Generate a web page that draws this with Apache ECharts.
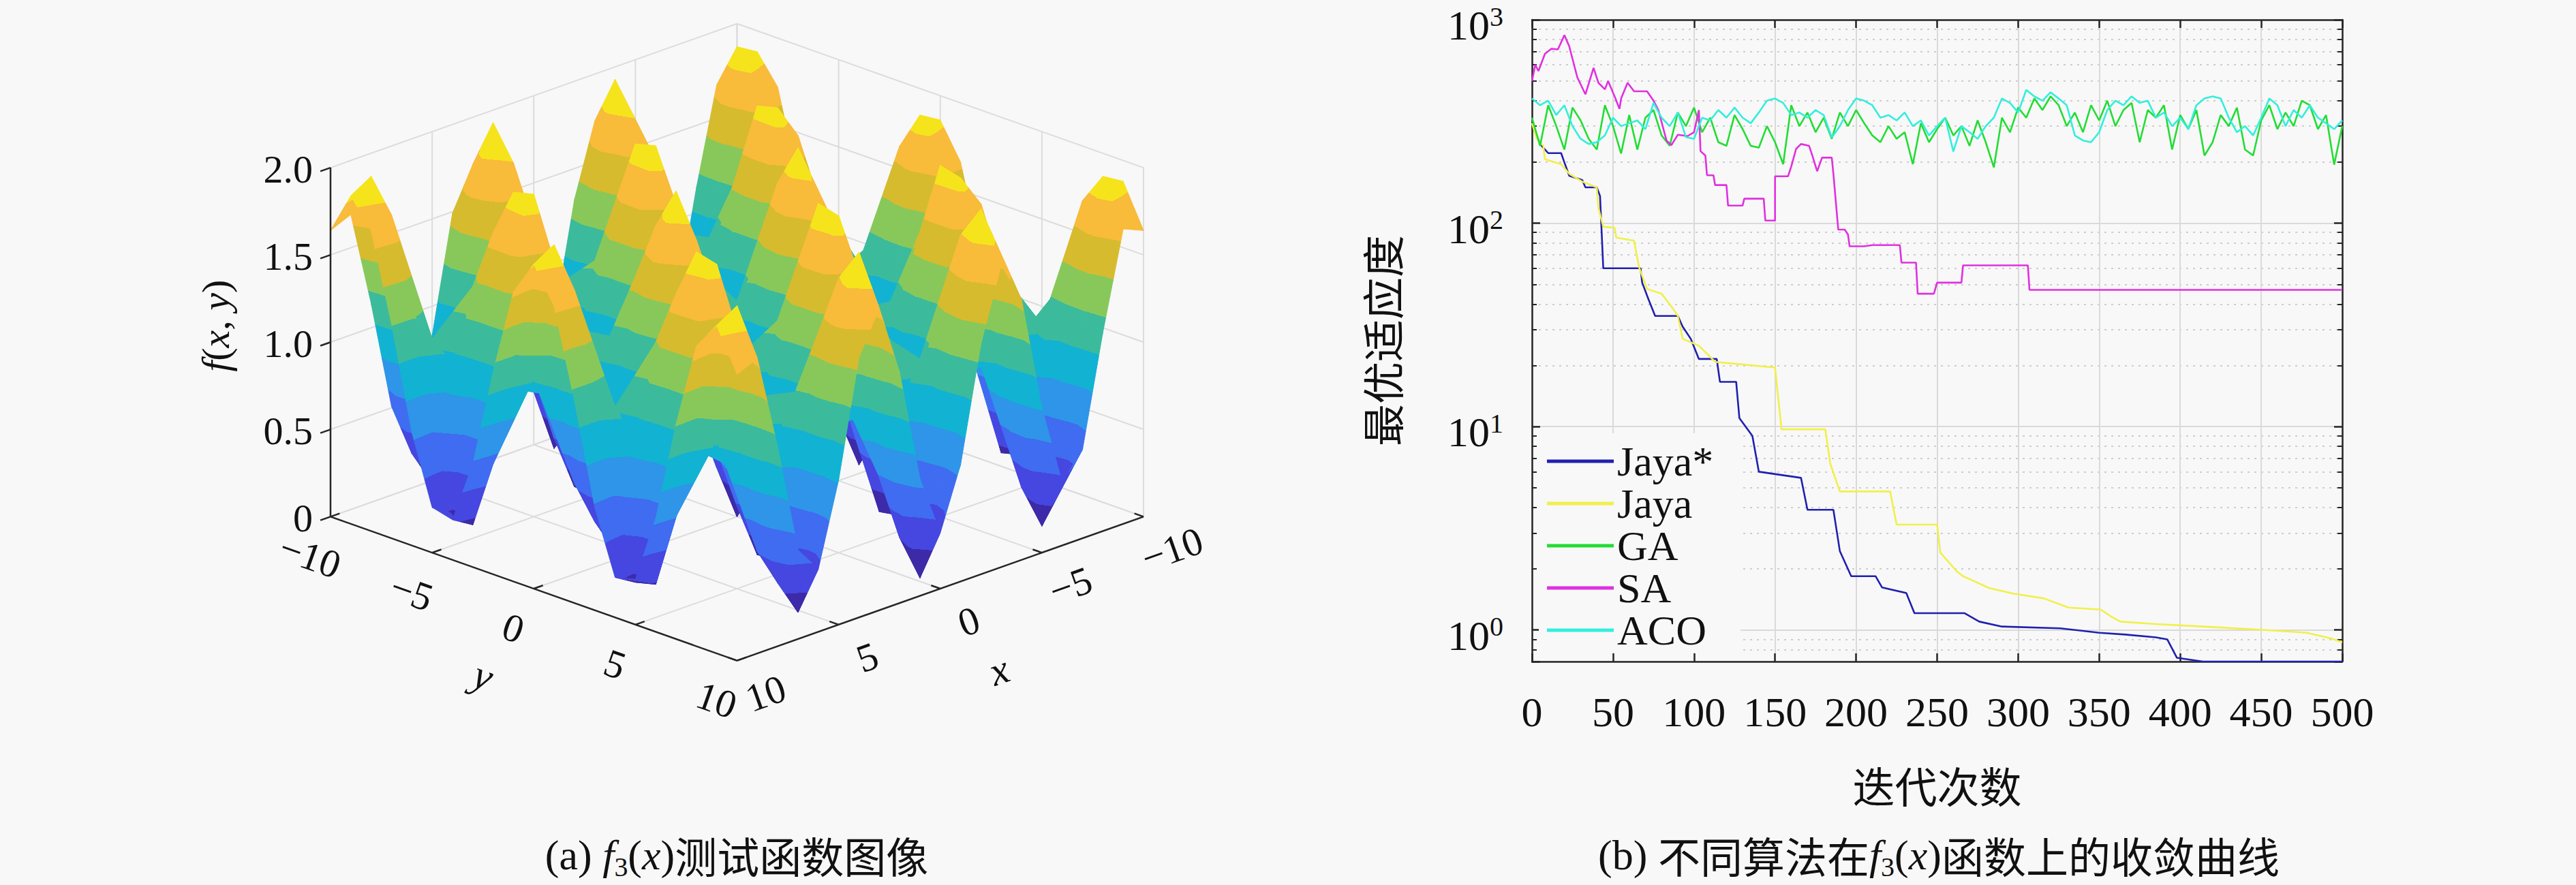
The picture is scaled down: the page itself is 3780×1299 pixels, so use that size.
<!DOCTYPE html>
<html>
<head>
<meta charset="utf-8">
<script src="https://cdn.jsdelivr.net/npm/echarts@6/dist/echarts.min.js"></script>
<style>
html, body { margin: 0; padding: 0; background: #f8f8f8; }
#main { width: 3780px; height: 1299px; }
</style>
</head>
<body>
<div id="main"></div>
<script>
// ---------- (a) surface of f3 on [-10,10]^2, 1-unit mesh ----------
var gridX = [-10,-9,-8,-7,-6,-5,-4,-3,-2,-1,0,1,2,3,4,5,6,7,8,9,10];
var gridY = [-10,-9,-8,-7,-6,-5,-4,-3,-2,-1,0,1,2,3,4,5,6,7,8,9,10];
// rows follow gridX, columns follow gridY
var surfZ = [
  [1.64,1.88,1.72,1.23,0.65,0.26,0.23,0.59,1.16,1.66,1.86,1.66,1.16,0.59,0.23,0.26,0.65,1.23,1.72,1.88,1.64],
  [1.69,1.95,1.77,1.25,0.62,0.19,0.16,0.55,1.16,1.71,1.93,1.71,1.16,0.55,0.16,0.19,0.62,1.25,1.77,1.95,1.69],
  [1.14,1.18,1.15,1.06,0.96,0.89,0.88,0.94,1.04,1.13,1.16,1.13,1.04,0.94,0.88,0.89,0.96,1.06,1.15,1.18,1.14],
  [0.51,0.28,0.42,0.85,1.36,1.71,1.73,1.41,0.90,0.44,0.26,0.44,0.90,1.41,1.73,1.71,1.36,0.85,0.42,0.28,0.51],
  [0.36,0.07,0.25,0.80,1.45,1.90,1.93,1.51,0.86,0.28,0.05,0.28,0.86,1.51,1.93,1.90,1.45,0.80,0.25,0.07,0.36],
  [0.83,0.74,0.79,0.95,1.14,1.27,1.28,1.16,0.96,0.79,0.72,0.79,0.96,1.16,1.28,1.27,1.14,0.95,0.79,0.74,0.83],
  [1.49,1.68,1.55,1.17,0.72,0.41,0.39,0.67,1.11,1.50,1.66,1.50,1.11,0.67,0.39,0.41,0.72,1.17,1.55,1.68,1.49],
  [1.73,2.01,1.82,1.25,0.56,0.09,0.07,0.49,1.16,1.75,1.99,1.75,1.16,0.49,0.07,0.09,0.56,1.25,1.82,2.01,1.73],
  [1.32,1.44,1.35,1.11,0.82,0.62,0.61,0.79,1.07,1.32,1.42,1.32,1.07,0.79,0.61,0.62,0.82,1.11,1.35,1.44,1.32],
  [0.67,0.50,0.60,0.90,1.26,1.51,1.52,1.29,0.92,0.59,0.46,0.59,0.92,1.29,1.52,1.51,1.26,0.90,0.60,0.50,0.67],
  [0.32,0.02,0.21,0.78,1.46,1.93,1.96,1.52,0.85,0.24,0.00,0.24,0.85,1.52,1.96,1.93,1.46,0.78,0.21,0.02,0.32],
  [0.67,0.50,0.60,0.90,1.26,1.51,1.52,1.29,0.92,0.59,0.46,0.59,0.92,1.29,1.52,1.51,1.26,0.90,0.60,0.50,0.67],
  [1.32,1.44,1.35,1.11,0.82,0.62,0.61,0.79,1.07,1.32,1.42,1.32,1.07,0.79,0.61,0.62,0.82,1.11,1.35,1.44,1.32],
  [1.73,2.01,1.82,1.25,0.56,0.09,0.07,0.49,1.16,1.75,1.99,1.75,1.16,0.49,0.07,0.09,0.56,1.25,1.82,2.01,1.73],
  [1.49,1.68,1.55,1.17,0.72,0.41,0.39,0.67,1.11,1.50,1.66,1.50,1.11,0.67,0.39,0.41,0.72,1.17,1.55,1.68,1.49],
  [0.83,0.74,0.79,0.95,1.14,1.27,1.28,1.16,0.96,0.79,0.72,0.79,0.96,1.16,1.28,1.27,1.14,0.95,0.79,0.74,0.83],
  [0.36,0.07,0.25,0.80,1.45,1.90,1.93,1.51,0.86,0.28,0.05,0.28,0.86,1.51,1.93,1.90,1.45,0.80,0.25,0.07,0.36],
  [0.51,0.28,0.42,0.85,1.36,1.71,1.73,1.41,0.90,0.44,0.26,0.44,0.90,1.41,1.73,1.71,1.36,0.85,0.42,0.28,0.51],
  [1.14,1.18,1.15,1.06,0.96,0.89,0.88,0.94,1.04,1.13,1.16,1.13,1.04,0.94,0.88,0.89,0.96,1.06,1.15,1.18,1.14],
  [1.69,1.95,1.77,1.25,0.62,0.19,0.16,0.55,1.16,1.71,1.93,1.71,1.16,0.55,0.16,0.19,0.62,1.25,1.77,1.95,1.69],
  [1.64,1.88,1.72,1.23,0.65,0.26,0.23,0.59,1.16,1.66,1.86,1.66,1.16,0.59,0.23,0.26,0.65,1.23,1.72,1.88,1.64]
];
var xyTicks = [-10, -5, 0, 5, 10];
var zTicks = [0, 0.5, 1, 1.5, 2];
var zTickLabels = ['0', '0.5', '1.0', '1.5', '2.0'];
var parula = ['#3d2aa8', '#4547e0', '#3f6cf0', '#2e95e8', '#12b2d2',
              '#3bbb9c', '#88c85a', '#d6bb2e', '#f8bb3a', '#f5e41c'];

// ---------- (b) convergence curves ----------
var seriesNames = ['Jaya*', 'Jaya', 'GA', 'SA', 'ACO'];
var seriesColors = ['#2020b0', '#f0f04a', '#22dd33', '#e030e0', '#33eedd'];

var jayaStarIter = [0,3,6,10,18,20,23,31,33,40,42,44,67,68,72,76,90,93,98,103,114,116,126,128,136,140,166,170,186,190,197,212,216,231,236,267,276,290,326,350,366,385,392,398,414,500];
var jayaStarVal = [310,265,240,221,221,199,171,163,150,150,136,60,60,51,42,35,35,31,27,21.5,21.5,16.6,16.6,11,9,6,5.6,3.9,3.9,2.44,1.84,1.84,1.62,1.52,1.21,1.21,1.10,1.04,1.02,0.97,0.95,0.92,0.90,0.73,0.70,0.70];

var jayaIter = [0,3,7,8,18,23,31,40,41,44,51,52,63,66,71,80,86,90,93,103,113,150,154,181,184,190,221,225,250,252,262,266,282,297,316,331,351,357,363,385,414,453,478,493,500];
var jayaVal = [310,260,240,206,195,175,160,150,119,96,95,85,82,61,47.5,45,39,35,27,25,20.8,19.5,9.7,9.7,6.6,4.8,4.8,3.3,3.3,2.4,1.95,1.84,1.61,1.51,1.43,1.29,1.26,1.17,1.10,1.07,1.04,1.0,0.97,0.91,0.87];

var saIter = [0,2,4,8,12,16,20,23,28,33,38,41,45,47,51,54,55,59,63,71,75,78,83,86,90,96,100,103,104,107,108,112,113,120,121,130,131,143,144,150,150,158,160,163,166,171,173,176,179,185,186,189,193,195,196,205,210,227,228,237,238,248,250,265,266,306,307,500];
var saVal = [500,600,560,680,720,715,840,740,520,430,580,490,455,500,420,365,410,490,445,445,400,360,255,242,272,268,280,360,226,215,172,172,154,154,122,122,132,132,103,103,170,170,190,232,245,240,215,180,210,210,175,93,93,88,77,77,78,78,64,64,45,45,51,51,62,62,47,47];

// GA and ACO read every 5 iterations
var sampleStep = 5;
var gaVal = [330,240,380,300,230,370,320,260,230,380,
             300,220,340,230,330,360,270,240,350,300,
             370,280,330,250,240,340,290,240,235,300,
             250,195,380,300,350,280,330,260,350,300,
             360,310,270,250,300,260,280,195,310,250,
             290,330,270,300,240,320,250,188,330,280,
             370,330,410,360,420,380,300,350,280,380,
             320,400,300,360,390,250,360,330,380,230,
             340,290,360,215,250,340,300,370,230,215,
             320,380,290,350,300,400,380,290,340,194,
             300];
var acoVal = [410,380,400,340,380,300,260,245,250,270,
              330,300,310,320,290,390,330,300,350,265,
              260,330,320,360,330,370,330,310,350,400,
              410,390,340,350,330,360,340,264,300,360,
              410,400,380,330,340,320,350,300,320,270,
              300,330,225,300,280,260,300,330,410,390,
              350,452,420,400,440,410,380,270,255,250,
              280,360,400,380,420,390,400,330,350,300,
              330,290,380,410,420,410,330,280,300,270,
              330,410,380,300,360,330,380,330,310,290,
              320];

var SERIF = '"Liberation Serif", "DejaVu Serif", serif';
var CJK = '"Noto Sans CJK SC", sans-serif';
var FRAME = '#262626';
var INK = '#111111';

// view of the surface: azimuth 45 deg, elevation ~20.7 deg
var COS45 = Math.SQRT1_2;
var SIN_EL = 0.354;
var Z_SCALE = 6.07;
var CLIM = [0, 2.03];
var LABEL_ANG = Math.atan(SIN_EL);

function proj(x, y, z) {
  return [(y - x) * COS45, z * Z_SCALE - (x + y) * COS45 * SIN_EL];
}

function pairs(xs, ys) {
  return xs.map(function (x, i) { return [x, ys[i]]; });
}

function sampled(vals) {
  return vals.map(function (v, k) { return [k * sampleStep, v]; });
}

function tickText(t) {
  return t < 0 ? '\u2212' + Math.abs(t) : String(t);
}

function levelOf(z) {
  var t = (z - CLIM[0]) / (CLIM[1] - CLIM[0]);
  return Math.max(0, Math.min(parula.length - 1, Math.floor(t * parula.length)));
}

// colour a triangle with discrete colormap bands (like interp shading)
function bandFill(P, Z) {
  var zLo = Math.min(Z[0], Z[1], Z[2]), zHi = Math.max(Z[0], Z[1], Z[2]);
  var kLo = levelOf(zLo), kHi = levelOf(zHi);
  var e1x = P[1][0] - P[0][0], e1y = P[1][1] - P[0][1];
  var e2x = P[2][0] - P[0][0], e2y = P[2][1] - P[0][1];
  var det = e1x * e2y - e1y * e2x;
  if (kLo === kHi || Math.abs(det) < 1) return parula[levelOf((Z[0] + Z[1] + Z[2]) / 3)];
  var d1 = Z[1] - Z[0], d2 = Z[2] - Z[0];
  var a = (d1 * e2y - e1y * d2) / det;
  var b = (e1x * d2 - d1 * e2x) / det;
  var g2 = a * a + b * b;
  var sx = P[0][0] + (zLo - Z[0]) * a / g2, sy = P[0][1] + (zLo - Z[0]) * b / g2;
  var ex = P[0][0] + (zHi - Z[0]) * a / g2, ey = P[0][1] + (zHi - Z[0]) * b / g2;
  var step = (CLIM[1] - CLIM[0]) / parula.length;
  var stops = [{ offset: 0, color: parula[kLo] }];
  for (var k = kLo + 1; k <= kHi; k++) {
    var t = (CLIM[0] + k * step - zLo) / (zHi - zLo);
    t = Math.max(0, Math.min(1, t));
    stops.push({ offset: t, color: parula[k - 1] }, { offset: t, color: parula[k] });
  }
  stops.push({ offset: 1, color: parula[kHi] });
  return new echarts.graphic.LinearGradient(sx, sy, ex, ey, stops, true);
}

// back-to-front order of mesh cells
var cells = [];
for (var s = 0; s <= 2 * (gridX.length - 2); s++) {
  for (var i = 0; i < gridX.length - 1; i++) {
    var j = s - i;
    if (j >= 0 && j < gridY.length - 1) cells.push([i, j]);
  }
}

function renderSurface(params, api) {
  var i = api.value(0), j = api.value(1);
  function vtx(c) {
    return { p: api.coord(proj(gridX[c[0]], gridY[c[1]], surfZ[c[0]][c[1]])), z: surfZ[c[0]][c[1]] };
  }
  var v00 = vtx([i, j]), v10 = vtx([i + 1, j]), v01 = vtx([i, j + 1]), v11 = vtx([i + 1, j + 1]);
  var tris = [[v00, v10, v01], [v10, v11, v01]];
  return {
    type: 'group',
    children: tris.map(function (tr) {
      var P = tr.map(function (v) { return v.p; });
      var fill = bandFill(P, tr.map(function (v) { return v.z; }));
      return { type: 'polygon', shape: { points: P }, style: { fill: fill, stroke: fill, lineWidth: 1 } };
    })
  };
}

function makeSeg(api, kids) {
  return function (a, b, style) {
    var p = api.coord(proj(a[0], a[1], a[2]));
    var q = api.coord(proj(b[0], b[1], b[2]));
    kids.push({ type: 'line', shape: { x1: p[0], y1: p[1], x2: q[0], y2: q[1] }, style: style });
  };
}

function renderWalls(params, api) {
  var kids = [];
  var seg = makeSeg(api, kids);
  var g = { stroke: '#dcdcdc', lineWidth: 2 };
  var lo = xyTicks[0], hi = xyTicks[xyTicks.length - 1], top = zTicks[zTicks.length - 1];
  xyTicks.forEach(function (t) {
    seg([t, lo, 0], [t, hi, 0], g);
    seg([lo, t, 0], [hi, t, 0], g);
    seg([t, lo, 0], [t, lo, top], g);
    seg([lo, t, 0], [lo, t, top], g);
  });
  zTicks.forEach(function (z) {
    seg([hi, lo, z], [lo, lo, z], g);
    seg([lo, lo, z], [lo, hi, z], g);
  });
  return { type: 'group', children: kids };
}

function label(kids, txt, x, y, rot, align, extra) {
  var st = { text: txt, fill: INK, fontSize: 58, fontFamily: SERIF, align: align || 'center', verticalAlign: 'middle' };
  if (extra) for (var k in extra) st[k] = extra[k];
  kids.push({ type: 'text', x: x, y: y, rotation: rot || 0, style: st });
}

function renderAxes(params, api) {
  var kids = [];
  var seg = makeSeg(api, kids);
  var ax = { stroke: FRAME, lineWidth: 2.5 };
  var lo = xyTicks[0], hi = xyTicks[xyTicks.length - 1], top = zTicks[zTicks.length - 1];
  seg([hi, lo, 0], [hi, hi, 0], ax);
  seg([hi, hi, 0], [lo, hi, 0], ax);
  seg([hi, lo, 0], [hi, lo, top], ax);
  xyTicks.forEach(function (t) {
    seg([hi, t, 0], [hi - 0.45, t, 0], ax);
    seg([t, hi, 0], [t, hi - 0.45, 0], ax);
    var p = api.coord(proj(hi, t, 0));
    label(kids, tickText(t), p[0] - 30, p[1] + 58, -LABEL_ANG);
    var q = api.coord(proj(t, hi, 0));
    label(kids, tickText(t), q[0] + 42, q[1] + 48, LABEL_ANG);
  });
  zTicks.forEach(function (z, k) {
    seg([hi, lo, z], [hi + 0.5, lo, z], ax);
    var p = api.coord(proj(hi, lo, z));
    label(kids, zTickLabels[k], p[0] - 26, p[1] + 2, 0, 'right');
  });
  var py = api.coord(proj(hi, 0, 0));
  label(kids, 'y', py[0] - 74, py[1] + 128, -LABEL_ANG, 'center', { fontStyle: 'italic', fontSize: 60 });
  var px = api.coord(proj(0, hi, 0));
  label(kids, 'x', px[0] + 86, px[1] + 120, LABEL_ANG, 'center', { fontStyle: 'italic', fontSize: 60 });
  var pz = api.coord(proj(hi, lo, 1));
  kids.push({
    type: 'text', x: pz[0] - 168, y: pz[1] - 24, rotation: Math.PI / 2,
    style: {
      text: '{i|f}{n|(}{i|x}{n|, }{i|y}{n|)}', align: 'center', verticalAlign: 'middle',
      rich: {
        i: { fontSize: 58, fontFamily: SERIF, fontStyle: 'italic', fill: INK },
        n: { fontSize: 58, fontFamily: SERIF, fill: INK }
      }
    }
  });
  return { type: 'group', children: kids };
}

var captionRich = {
  n: { fontSize: 62, fontFamily: SERIF, fill: INK, lineHeight: 74 },
  i: { fontSize: 62, fontFamily: SERIF, fontStyle: 'italic', fill: INK, lineHeight: 74 },
  s: { fontSize: 40, fontFamily: SERIF, fill: INK, lineHeight: 74, verticalAlign: 'bottom' },
  c: { fontSize: 62, fontFamily: CJK, fill: INK, lineHeight: 74 }
};

var lineSeries = [
  pairs(jayaStarIter, jayaStarVal),
  pairs(jayaIter, jayaVal),
  sampled(gaVal),
  pairs(saIter, saVal),
  sampled(acoVal)
].map(function (data, k) {
  return {
    name: seriesNames[k], type: 'line', xAxisIndex: 1, yAxisIndex: 1,
    data: data, symbol: 'none', color: seriesColors[k],
    lineStyle: { color: seriesColors[k], width: 2.6 }, z: 3 + k
  };
});

var myChart = echarts.init(document.getElementById('main'), null, { renderer: 'svg' });

var option = {
  backgroundColor: '#f8f8f8',
  animation: false,
  grid: [
    { left: 485, top: 3, width: 1193, height: 1093, show: false },
    { left: 2248, top: 29, width: 1189, height: 942, show: false }
  ],
  xAxis: [
    { gridIndex: 0, type: 'value', min: -14.142, max: 14.142, show: false },
    {
      gridIndex: 1, type: 'value', min: 0, max: 500, interval: 50, position: 'bottom',
      axisLine: { show: true, onZero: false, lineStyle: { color: FRAME, width: 2.5 } },
      axisTick: { show: true, inside: true, length: 12, lineStyle: { color: FRAME, width: 2.5 } },
      axisLabel: { margin: 43, fontSize: 62, fontFamily: SERIF, color: INK },
      splitLine: { show: true, lineStyle: { color: '#dadada', width: 2 } },
      name: '迭代次数', nameLocation: 'middle', nameGap: 150,
      nameTextStyle: { fontSize: 62, fontFamily: CJK, color: INK }
    },
    {
      gridIndex: 1, type: 'value', min: 0, max: 500, interval: 50, position: 'top',
      axisLine: { show: true, onZero: false, lineStyle: { color: FRAME, width: 2.5 } },
      axisTick: { show: true, inside: true, length: 12, lineStyle: { color: FRAME, width: 2.5 } },
      axisLabel: { show: false }, splitLine: { show: false }
    }
  ],
  yAxis: [
    { gridIndex: 0, type: 'value', min: -8, max: 17.9, show: false },
    {
      gridIndex: 1, type: 'log', logBase: 10, min: 0.7, max: 1000, position: 'left',
      axisLine: { show: true, onZero: false, lineStyle: { color: FRAME, width: 2.5 } },
      axisTick: { show: true, inside: true, length: 12, lineStyle: { color: FRAME, width: 2.5 } },
      minorTick: { show: true, splitNumber: 9, length: 7, lineStyle: { color: FRAME, width: 2 } },
      splitLine: { show: true, lineStyle: { color: '#dadada', width: 2 } },
      minorSplitLine: { show: true, lineStyle: { color: '#cdcdcd', width: 2, type: [3, 7] } },
      axisLabel: {
        margin: 42, padding: [16, 0, 0, 0],
        formatter: function (v) {
          var e = Math.round(Math.log(v) / Math.LN10);
          if (Math.abs(v - Math.pow(10, e)) > 1e-6 * v) return '';
          return '{m|10}{e|' + e + '}';
        },
        rich: {
          m: { fontSize: 62, fontFamily: SERIF, color: INK, lineHeight: 66 },
          e: { fontSize: 40, fontFamily: SERIF, color: INK, lineHeight: 66, verticalAlign: 'top' }
        }
      },
      name: '最优适应度', nameLocation: 'middle', nameGap: 190, nameRotate: 90,
      nameTextStyle: { fontSize: 62, fontFamily: CJK, color: INK }
    },
    {
      gridIndex: 1, type: 'log', logBase: 10, min: 0.7, max: 1000, position: 'right',
      axisLine: { show: true, onZero: false, lineStyle: { color: FRAME, width: 2.5 } },
      axisTick: { show: true, inside: true, length: 12, lineStyle: { color: FRAME, width: 2.5 } },
      minorTick: { show: true, splitNumber: 9, length: 7, lineStyle: { color: FRAME, width: 2 } },
      axisLabel: { show: false }, splitLine: { show: false }
    }
  ],
  legend: {
    data: seriesNames, orient: 'vertical', left: 2258, top: 636,
    padding: [10, 40, 2, 12], backgroundColor: '#f8f8f8',
    icon: 'rect', itemWidth: 98, itemHeight: 5, itemGap: 0,
    textStyle: { fontSize: 62, fontFamily: SERIF, color: INK, lineHeight: 61 }
  },
  graphic: [
    {
      type: 'text', x: 1081, y: 1255,
      style: { text: '{n|(a) }{i|f}{s|3}{n|(}{i|x}{n|)}{c|测试函数图像}', align: 'center', verticalAlign: 'middle', rich: captionRich }
    },
    {
      type: 'text', x: 2845, y: 1255,
      style: { text: '{n|(b) }{c|不同算法在}{i|f}{s|3}{n|(}{i|x}{n|)}{c|函数上的收敛曲线}', align: 'center', verticalAlign: 'middle', rich: captionRich }
    }
  ],
  series: [
    { type: 'custom', xAxisIndex: 0, yAxisIndex: 0, clip: false, silent: true, z: 1, data: [[0, 0]], renderItem: renderWalls },
    { type: 'custom', xAxisIndex: 0, yAxisIndex: 0, clip: false, silent: true, z: 2, data: cells, renderItem: renderSurface },
    { type: 'custom', xAxisIndex: 0, yAxisIndex: 0, clip: false, silent: true, z: 3, data: [[0, 0]], renderItem: renderAxes }
  ].concat(lineSeries)
};

myChart.setOption(option);
</script>
</body>
</html>
